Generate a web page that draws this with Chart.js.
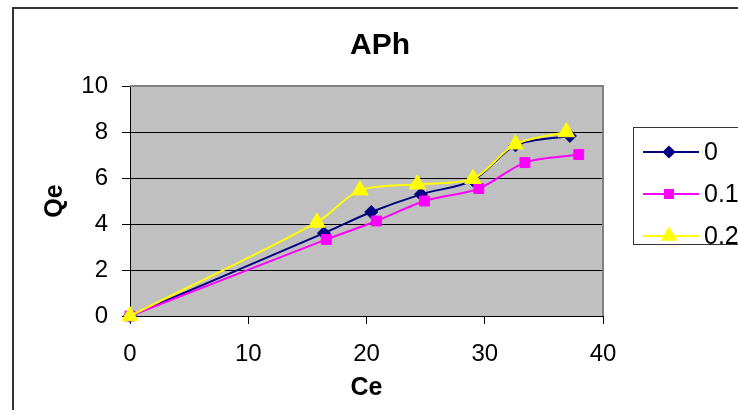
<!DOCTYPE html>
<html>
<head>
<meta charset="utf-8">
<script src="https://cdn.jsdelivr.net/npm/chart.js@4/dist/chart.umd.min.js"></script>
<style>
  html, body { margin: 0; padding: 0; background: #fff; }
  #wrap { width: 738px; height: 410px; }
</style>
</head>
<body>
<div id="wrap"><canvas id="myChart" width="738" height="410"></canvas></div>
<script>
// Isotherm data (Ce vs Qe) for each concentration
const seriesNames = ["0", "0.1", "0.2"];
const ce0 = [0, 16.4, 20.4, 24.6, 29.0, 32.6, 37.2];
const qe0 = [0, 3.6, 4.52, 5.29, 5.9, 7.42, 7.83];
const ce1 = [0, 16.6, 20.85, 24.9, 29.5, 33.4, 37.95];
const qe1 = [0, 3.33, 4.13, 5.0, 5.54, 6.67, 7.02];
const ce2 = [0, 15.8, 19.45, 24.3, 29.0, 32.6, 36.9];
const qe2 = [0, 4.07, 5.47, 5.73, 5.97, 7.47, 8.0];
const xTicks = [0, 10, 20, 30, 40];
const yTicks = [0, 2, 4, 6, 8, 10];

const FONT = "'Liberation Sans', Arial, sans-serif";

function toPoints(xs, ys) {
  return xs.map((x, i) => ({ x: x, y: ys[i] }));
}

const colores = ["#000080", "#FF00FF", "#FFFF00"];
const marcadores = ["rectRot", "rect", "triangle"];
const radios = [6.5, 7, 9.5];

const datasets = [
  { data: toPoints(ce0, qe0), order: 3 },
  { data: toPoints(ce1, qe1), order: 2 },
  { data: toPoints(ce2, qe2), order: 1 },
].map((d, i) => ({
  label: seriesNames[i],
  data: d.data,
  order: d.order,
  clip: false,
  showLine: true,
  tension: 0.3,
  borderColor: colores[i],
  backgroundColor: colores[i],
  borderWidth: 2,
  pointStyle: marcadores[i],
  pointRadius: radios[i],
  pointBorderWidth: 1,
  pointBorderColor: colores[i],
  pointBackgroundColor: colores[i],
}));

// Frame, plot background, title and legend drawn around the chart
const decor = {
  id: "decor",
  beforeDraw(chart) {
    const { ctx, chartArea: a } = chart;
    ctx.save();
    ctx.fillStyle = "#fff";
    ctx.fillRect(0, 0, chart.width, chart.height);
    ctx.strokeStyle = "#333";
    ctx.lineWidth = 2;
    ctx.beginPath();
    ctx.moveTo(13, 420);
    ctx.lineTo(13, 8);
    ctx.lineTo(750, 8);
    ctx.stroke();
    ctx.fillStyle = "#C0C0C0";
    ctx.fillRect(a.left, a.top, a.right - a.left, a.bottom - a.top);
    ctx.restore();
  },
  beforeDatasetsDraw(chart) {
    const { ctx, chartArea: a } = chart;
    ctx.save();
    ctx.strokeStyle = "#808080";
    ctx.lineWidth = 2;
    ctx.beginPath();
    ctx.moveTo(a.left, a.top);
    ctx.lineTo(a.right, a.top);
    ctx.lineTo(a.right, a.bottom);
    ctx.stroke();
    ctx.restore();
  },
  afterDraw(chart) {
    const { ctx } = chart;
    ctx.save();
    // title
    ctx.fillStyle = "#000";
    ctx.font = "bold 30px " + FONT;
    ctx.textAlign = "center";
    ctx.textBaseline = "middle";
    ctx.fillText("APh", 380, 46);

    // legend
    const lx = 633, ly = 127, lw = 120, lh = 117;
    ctx.fillStyle = "#fff";
    ctx.fillRect(lx, ly, lw, lh);
    ctx.strokeStyle = "#333";
    ctx.lineWidth = 1;
    ctx.strokeRect(lx + 0.5, ly + 0.5, lw, lh);
    const filas = [152, 194, 236];
    chart.data.datasets.forEach((ds, i) => {
      const y = filas[i];
      ctx.strokeStyle = ds.borderColor;
      ctx.lineWidth = 2;
      ctx.beginPath();
      ctx.moveTo(643, y);
      ctx.lineTo(699, y);
      ctx.stroke();
      ctx.fillStyle = ds.backgroundColor;
      ctx.strokeStyle = ds.borderColor;
      Chart.helpers.drawPoint(ctx, {
        pointStyle: ds.pointStyle,
        radius: ds.pointRadius * 0.8,
        borderWidth: 1,
        rotation: 0,
      }, 669, y);
      ctx.fillStyle = "#000";
      ctx.font = "25px " + FONT;
      ctx.textAlign = "left";
      ctx.textBaseline = "middle";
      ctx.fillText(ds.label, 704, y + 1);
    });
    ctx.restore();
  },
};

const ctx = document.getElementById("myChart").getContext("2d");

const config = {
  type: "scatter",
  data: { datasets: datasets },
  options: {
    responsive: false,
    animation: false,
    layout: { padding: { left: 0, top: 86, right: 135, bottom: 0 } },
    plugins: {
      legend: { display: false },
      title: { display: false },
      tooltip: { enabled: false },
    },
    scales: {
      x: {
        type: "linear",
        min: 0,
        max: 40,
        afterBuildTicks: (s) => { s.ticks = xTicks.map((v) => ({ value: v })); },
        afterFit: (s) => { s.height = 94; },
        grid: { drawOnChartArea: false, drawTicks: true, tickLength: 8, tickColor: "#000", tickWidth: 1 },
        border: { color: "#000", width: 1 },
        ticks: { color: "#000", padding: 16, font: { family: FONT, size: 24 } },
        title: { display: true, text: "Ce", color: "#000", padding: { top: 0, bottom: 7 }, font: { family: FONT, size: 25, weight: "bold" } },
      },
      y: {
        type: "linear",
        min: 0,
        max: 10,
        afterBuildTicks: (s) => { s.ticks = yTicks.map((v) => ({ value: v })); },
        afterFit: (s) => { s.width = 130; },
        grid: {
          color: (c) => (c.tick && c.tick.value === 10 ? "#808080" : "#000"),
          lineWidth: 1,
          tickLength: 8,
          tickColor: "#000",
          tickWidth: 1,
        },
        border: { color: "#000", width: 1 },
        ticks: { color: "#000", padding: 14, font: { family: FONT, size: 24 } },
        title: { display: true, text: "Qe", color: "#000", padding: { top: 40, bottom: 0 }, font: { family: FONT, size: 25, weight: "bold" } },
      },
    },
  },
  plugins: [decor],
};

const myChart = new Chart(ctx, config);
</script>
</body>
</html>
